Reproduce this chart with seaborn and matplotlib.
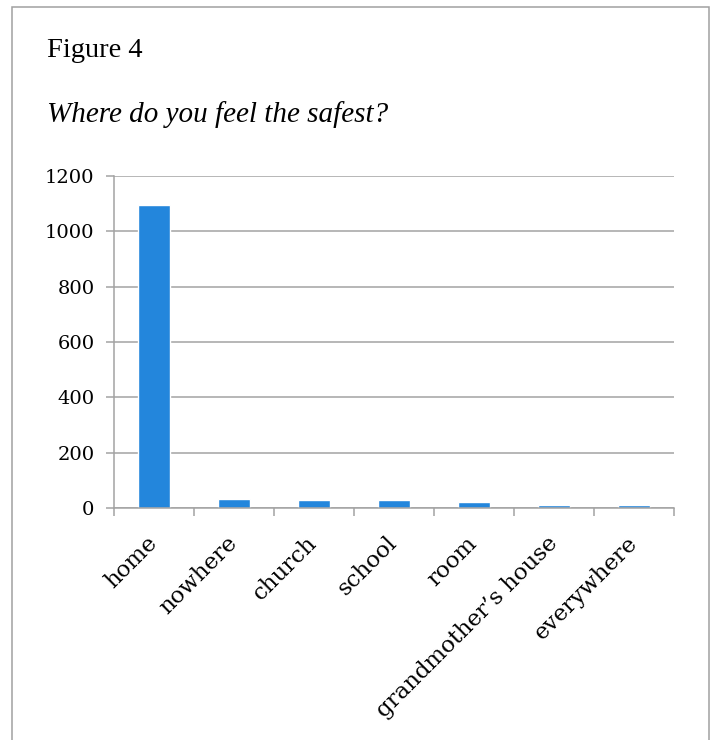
import pandas as pd
import matplotlib.pyplot as plt
import seaborn as sns

places = ["home", "nowhere", "church", "school", "room",
          "grandmother\u2019s house", "everywhere"]
counts = [1095, 34, 28, 28, 21, 12, 12]
y_ticks = [0, 200, 400, 600, 800, 1000, 1200]

data = pd.DataFrame({"Place": places, "Count": counts})

sns.set_style("white")
plt.rcParams["text.color"] = "black"
plt.rcParams["xtick.labelcolor"] = "black"
plt.rcParams["ytick.labelcolor"] = "black"
grey = "#a3a3a3"

fig = plt.figure(figsize=(7.12, 7.40), dpi=100)
ax = fig.add_axes([114 / 712, 1 - 508 / 740, 560 / 712, 332 / 740])

sns.barplot(data=data, x="Place", y="Count", color="#2386dc",
            width=0.4, saturation=1, ax=ax)

ax.set_xlim(-0.5, len(places) - 0.5)
ax.set_ylim(0, 1200)
ax.set_yticks(y_ticks)
ax.set_yticklabels([str(v) for v in y_ticks], family="DejaVu Serif",
                   fontsize=14, color="black")
ax.yaxis.grid(True, color=grey, linewidth=1.1)
ax.set_axisbelow(True)
ax.tick_params(axis="y", which="major", length=6, width=1.1, color=grey,
               left=True, pad=8)

# labels at bar centres, tick marks at category boundaries
ax.set_xticks(range(len(places)))
ax.set_xticks([i - 0.5 for i in range(len(places) + 1)], minor=True)
ax.tick_params(axis="x", which="major", length=0, pad=23)
ax.tick_params(axis="x", which="minor", length=6, width=1.1, color=grey,
               bottom=True)
ax.set_xticklabels(places, rotation=45, ha="right", va="center",
                   rotation_mode="anchor", family="DejaVu Serif",
                   fontsize=16.5, color="black")

for side in ["top", "right"]:
    ax.spines[side].set_visible(False)
for side in ["left", "bottom"]:
    ax.spines[side].set_color(grey)
    ax.spines[side].set_linewidth(1.1)
ax.set_xlabel("")
ax.set_ylabel("")

fig.text(47 / 712, 1 - 57 / 740, "Figure 4", family="Liberation Serif",
         fontsize=20.5, va="baseline", color="black")
fig.text(47 / 712, 1 - 122 / 740, "Where do you feel the safest?",
         family="Liberation Serif", style="italic", fontsize=21,
         va="baseline", color="black")

# page frame around the figure
frame = plt.Rectangle((12 / 712, -0.1), 697 / 712, 1.1 - 7 / 740,
                      transform=fig.transFigure, fill=False,
                      edgecolor="#a0a0a0", linewidth=1.1)
fig.add_artist(frame)

fig.savefig("out.png", dpi=100)
